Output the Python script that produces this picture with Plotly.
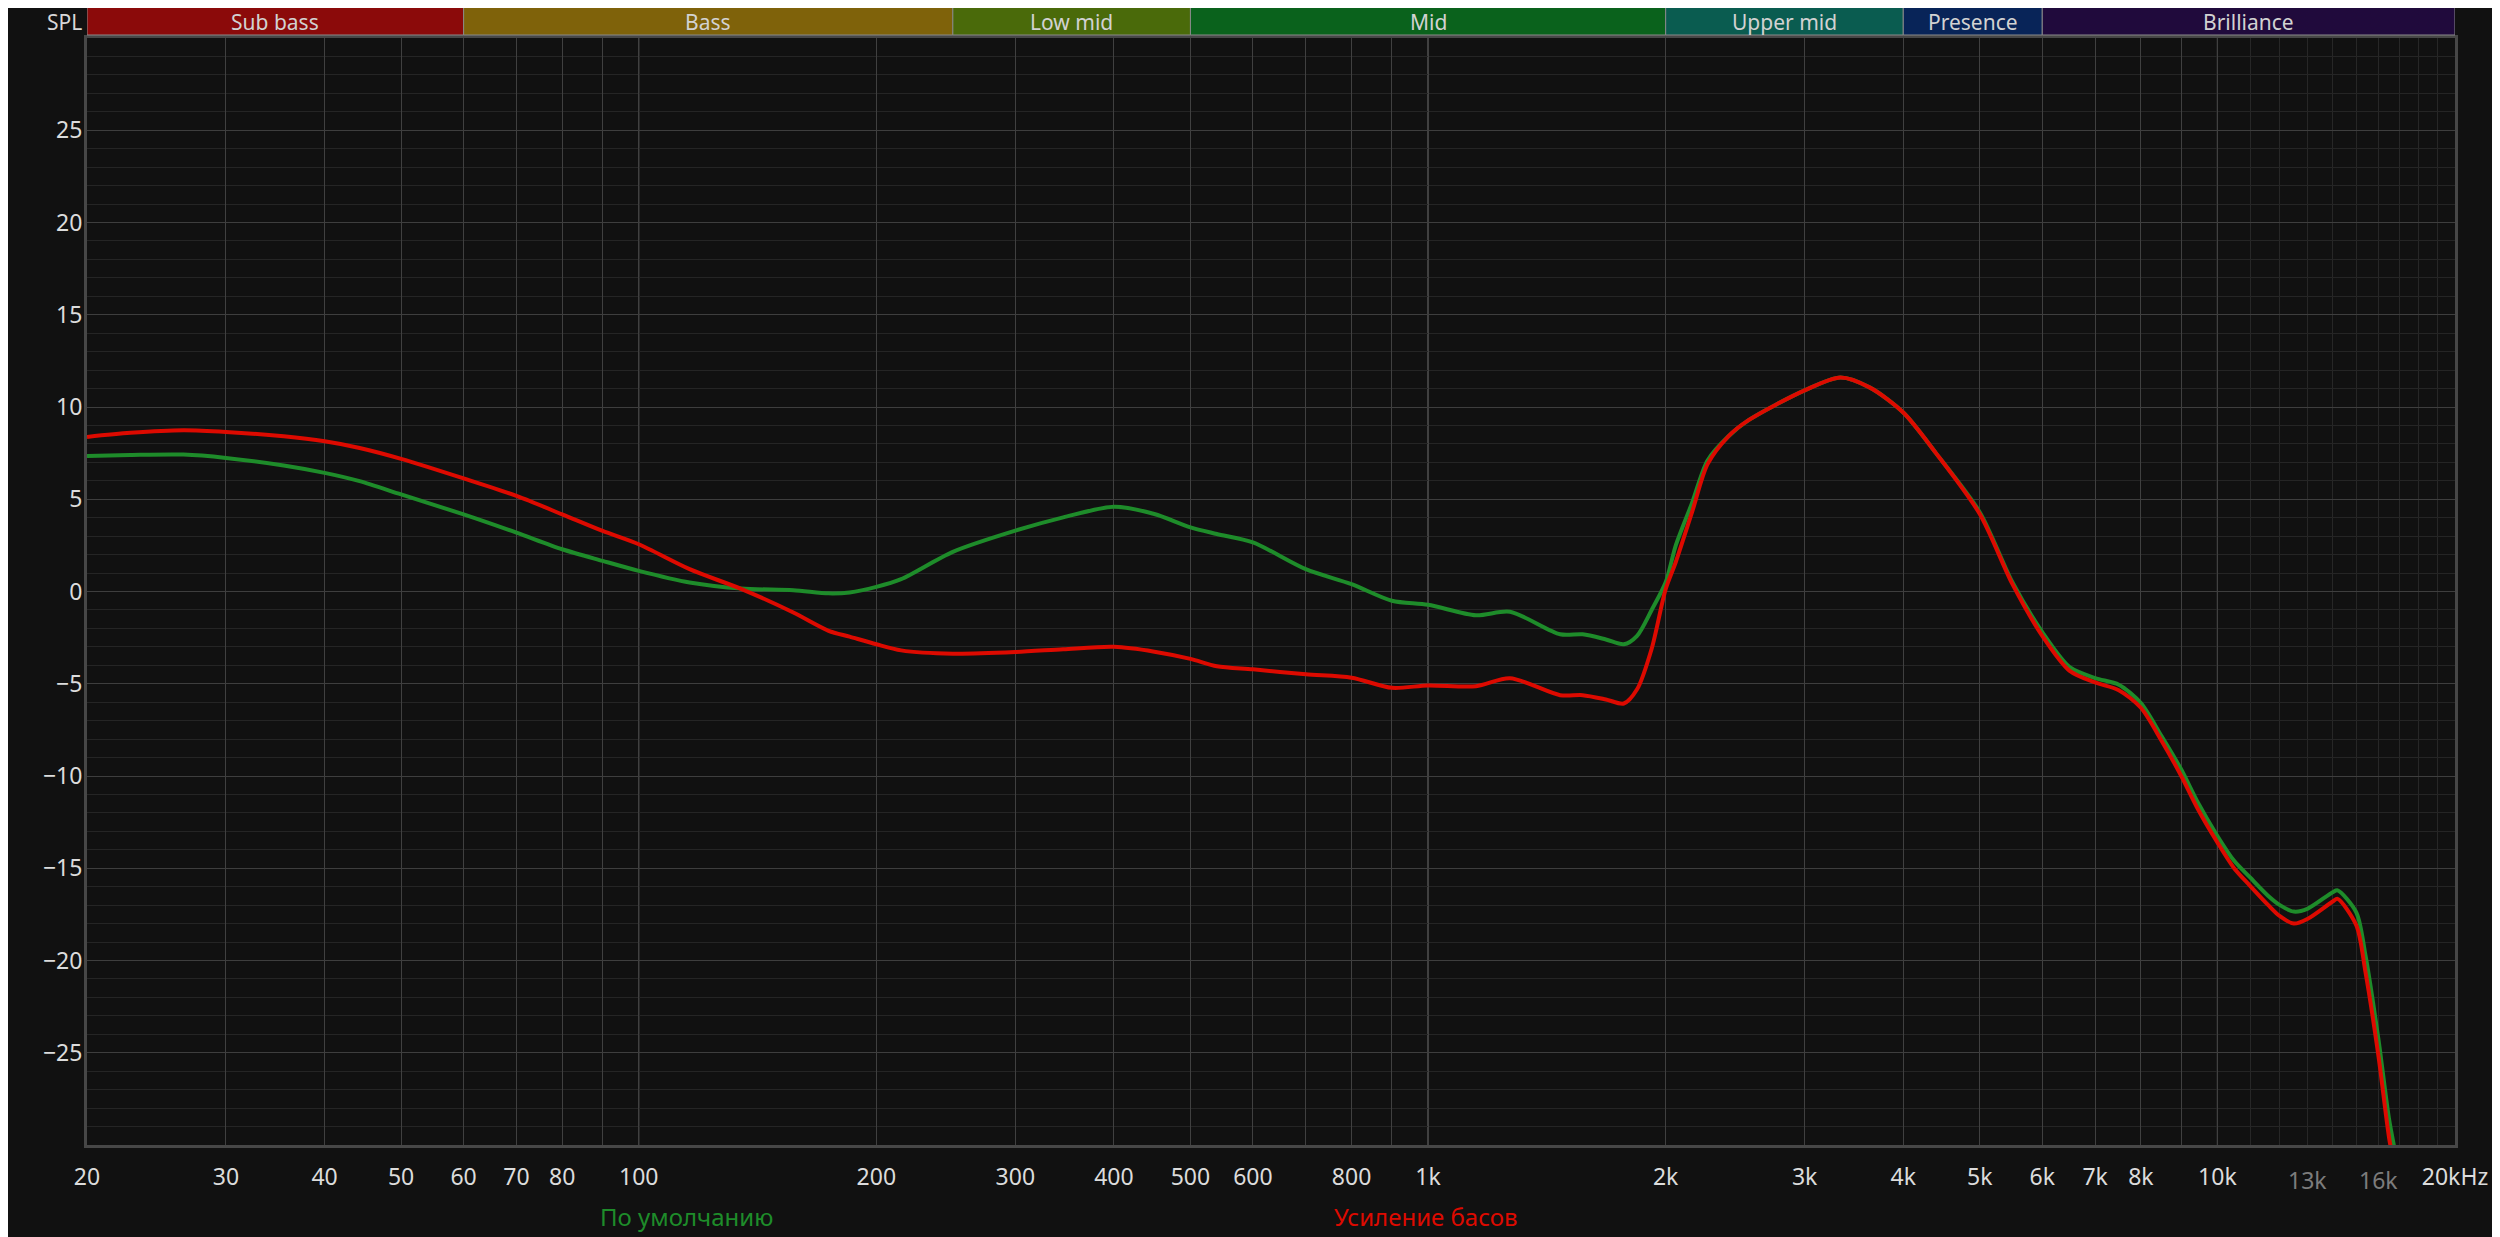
import numpy as np
import plotly.graph_objects as go

# ---------------- data ----------------
freq = [20, 22.7, 26.5, 30, 35.5, 40, 44.3, 50, 60, 70, 80, 90, 100, 116, 135, 157, 174, 185,
        200, 215, 250, 300, 345, 400, 450, 500, 540, 600, 700, 800, 900, 1000, 1150, 1270,
        1470, 1570, 1680, 1770, 1840, 1920, 2000, 2060, 2160, 2260, 2400, 2550, 3000, 3330,
        3630, 4000, 4400, 5000, 5500, 6000, 6500, 7000, 7500, 8000, 8500, 9000, 9450, 10000,
        10500, 11000, 11600, 12000, 12500, 13000, 14000, 14200, 15000, 15400, 16000, 16500,
        16900, 17500]

default_db = [7.35, 7.4, 7.42, 7.24, 6.83, 6.43, 5.98, 5.26, 4.18, 3.19, 2.29, 1.66, 1.12, 0.49,
              0.16, 0.07, -0.1, -0.05, 0.25, 0.67, 2.15, 3.3, 4.02, 4.6, 4.2, 3.48, 3.12, 2.66,
              1.21, 0.4, -0.5, -0.72, -1.29, -1.1, -2.32, -2.32, -2.6, -2.86, -2.4, -1.0, 0.5,
              2.5, 4.8, 7.1, 8.4, 9.3, 10.9, 11.6, 11.05, 9.7, 7.5, 4.3, 0.5, -2.2, -4.1, -4.69,
              -5.05, -6.05, -7.85, -9.65, -11.45, -13.25, -14.6, -15.5, -16.5, -17.0, -17.35,
              -17.2, -16.3, -16.2, -17.4, -19.7, -24.3, -28.6, -31.0, -35.0]

bass_db = [8.38, 8.6, 8.74, 8.65, 8.41, 8.14, 7.78, 7.19, 6.13, 5.18, 4.18, 3.28, 2.56, 1.21,
           0.13, -1.14, -2.13, -2.45, -2.86, -3.19, -3.37, -3.28, -3.13, -3.0, -3.26, -3.65,
           -4.05, -4.22, -4.49, -4.67, -5.22, -5.09, -5.13, -4.7, -5.62, -5.62, -5.85, -6.07,
           -5.3, -3.1, 0.13, 1.6, 4.3, 6.9, 8.4, 9.3, 10.9, 11.6, 11.05, 9.7, 7.5, 4.2, 0.4,
           -2.4, -4.3, -4.93, -5.35, -6.3, -8.1, -10.0, -11.8, -13.6, -15.0, -15.95, -17.0,
           -17.6, -18.0, -17.75, -16.8, -16.66, -18.1, -20.6, -25.2, -29.6, -32.0, -36.0]

series_names = ["По умолчанию", "Усиление басов"]
series_colors = ["#1e8c2a", "#dd0a00"]

x_tick_vals = [20, 30, 40, 50, 60, 70, 80, 90, 100, 200, 300, 400, 500, 600, 700, 800, 900,
               1000, 2000, 3000, 4000, 5000, 6000, 7000, 8000, 9000, 10000, 20000]
x_tick_text = ["20", "30", "40", "50", "60", "70", "80", "", "100", "200", "300", "400", "500",
               "600", "", "800", "", "1k", "2k", "3k", "4k", "5k", "6k", "7k", "8k", "", "10k",
               "20kHz"]
x_minor_vals = [11000, 12000, 13000, 14000, 15000, 16000, 17000, 18000, 19000]
x_dim_label_vals = [13000, 16000]
x_dim_label_text = ["13k", "16k"]
x_decade_vals = [100, 1000, 10000]

y_tick_vals = [-25, -20, -15, -10, -5, 0, 5, 10, 15, 20, 25]

band_names = ["Sub bass", "Bass", "Low mid", "Mid", "Upper mid", "Presence", "Brilliance"]
band_edges = [20, 60, 250, 500, 2000, 4000, 6000, 20000]
band_colors = ["#8b0a0a", "#7f620a", "#4a6a0a", "#0a621c", "#0a5c50", "#082458", "#200a3c"]

# ---------------- figure ----------------
# the html body has an 8px margin; size the figure so the page coordinates match
BODY = 8
W, H = 2500 - BODY, 1237 - BODY
PLOT_L, PLOT_R, PLOT_T, PLOT_B = 87, 2457, 38, 1145   # page pixel box of the plot area
ML, MT = PLOT_L - BODY, PLOT_T - BODY
MR, MB = (BODY + W) - PLOT_R, (BODY + H) - PLOT_B
plot_h = PLOT_B - PLOT_T
plot_w = PLOT_R - PLOT_L
FONT = "Noto Sans"
BG = "#111111"

fig = go.Figure()
for ys, name, col in zip([default_db, bass_db], series_names, series_colors):
    fig.add_trace(go.Scatter(x=freq, y=ys, mode="lines", name=name,
                             line=dict(color=col, width=4, shape="spline", smoothing=0.8),
                             showlegend=False, hoverinfo="skip"))

shapes = []
annotations = []

# decade lines (brighter)
for v in x_decade_vals:
    shapes.append(dict(type="line", xref="x", yref="paper", x0=v, x1=v, y0=0, y1=1,
                       line=dict(color="#7a7a7a", width=1), layer="below"))

# frequency band strip
band_y0 = 1 + (PLOT_T - 35) / plot_h
band_y1 = 1 + (PLOT_T - 6) / plot_h
for i, (nm, col) in enumerate(zip(band_names, band_colors)):
    lo, hi = band_edges[i], band_edges[i + 1]
    shapes.append(dict(type="rect", xref="x", yref="paper", x0=lo, x1=hi, y0=band_y0, y1=band_y1,
                       fillcolor=col, line=dict(color="#8a8a8a", width=1), layer="above"))
    annotations.append(dict(x=(np.log10(lo) + np.log10(hi)) / 2, xref="x",
                            y=(band_y0 + band_y1) / 2, yref="paper", yshift=-1, text=nm,
                            showarrow=False, borderpad=0,
                            font=dict(family=FONT, size=21, color="#d2d2d2"),
                            xanchor="center", yanchor="middle"))

# dim tick labels 13k / 16k
for v, t in zip(x_dim_label_vals, x_dim_label_text):
    annotations.append(dict(x=np.log10(v), xref="x", y=0, yref="paper", yshift=-35, text=t,
                            showarrow=False, font=dict(family=FONT, size=23, color="#7c7c7c"),
                            xanchor="center", yanchor="middle"))

# SPL label (kept fully inside the figure area)
annotations.append(dict(x=0, xref="paper", xshift=-4, y=1, yref="paper",
                        yshift=(PLOT_T - 22), text="SPL", showarrow=False, xanchor="right",
                        yanchor="middle", borderpad=0,
                        font=dict(family=FONT, size=21, color="#d8d8d8")))

# series labels under the chart
label_px = [687, 1427]
for name, col, px in zip(series_names, series_colors, label_px):
    annotations.append(dict(x=(px - PLOT_L) / plot_w, xref="paper", y=0, yref="paper",
                            yshift=-(1216 - PLOT_B), text=name, showarrow=False,
                            xanchor="center", yanchor="middle",
                            font=dict(family=FONT, size=24, color=col)))

fig.update_layout(
    width=W, height=H,
    margin=dict(l=ML, r=MR, t=MT, b=MB, pad=0),
    paper_bgcolor=BG, plot_bgcolor=BG,
    shapes=shapes, annotations=annotations,
    font=dict(family=FONT, color="#d8d8d8", size=23),
)

fig.update_xaxes(
    type="log", range=[np.log10(20), np.log10(20000)],
    tickmode="array", tickvals=x_tick_vals, ticktext=x_tick_text,
    ticks="outside", ticklen=9, tickcolor=BG,
    tickfont=dict(family=FONT, size=23, color="#dcdcdc"),
    showgrid=True, gridcolor="#404040", gridwidth=1,
    minor=dict(tickmode="array", tickvals=x_minor_vals, showgrid=True,
               gridcolor="#272727", gridwidth=1, ticks=""),
    showline=True, linecolor="#474747", linewidth=3, mirror=True,
    zeroline=False, fixedrange=True,
)
fig.update_yaxes(
    range=[-30, 30], tickmode="array", tickvals=y_tick_vals,
    ticks="", ticklabelstandoff=-3,
    tickfont=dict(family=FONT, size=23, color="#dcdcdc"),
    showgrid=True, gridcolor="#3e3e3e", gridwidth=1,
    minor=dict(dtick=1, showgrid=True, gridcolor="#252525", gridwidth=1, ticks=""),
    showline=True, linecolor="#474747", linewidth=3, mirror=True,
    zeroline=False, fixedrange=True,
)

fig.write_html("out.html")
